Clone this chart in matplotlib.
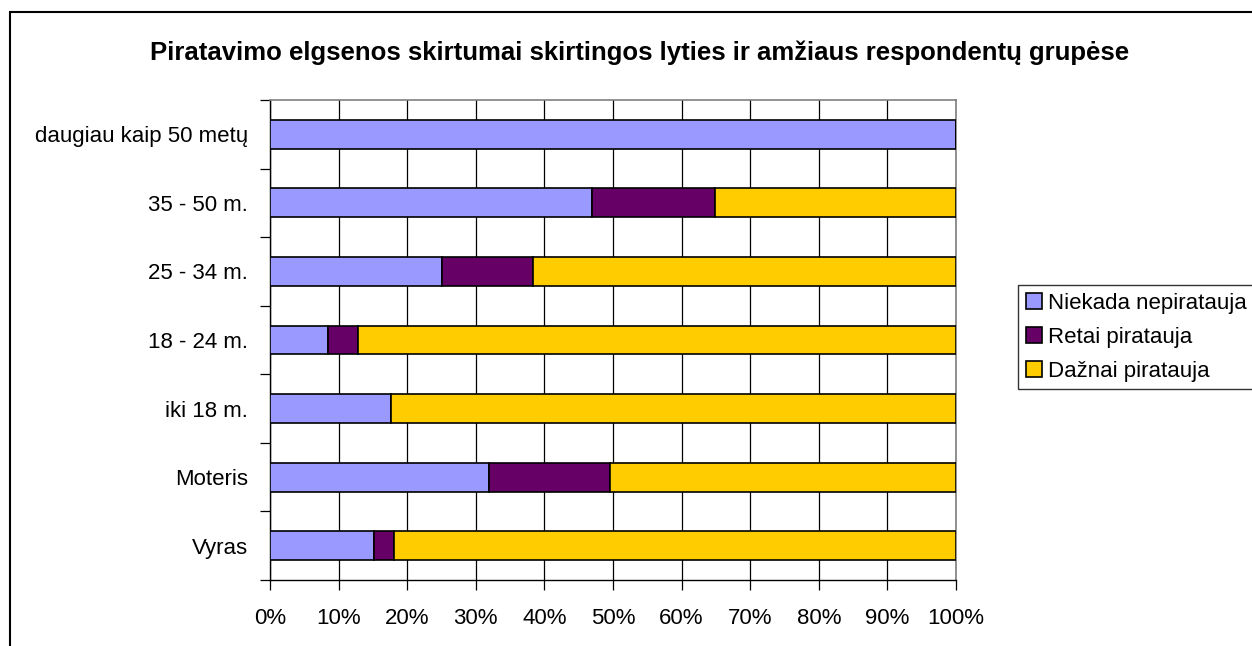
import numpy as np
import matplotlib
matplotlib.use("Agg")
import matplotlib.pyplot as plt
from matplotlib.patches import Rectangle
from matplotlib.ticker import FixedLocator, PercentFormatter

plt.rcParams['font.family'] = ['Liberation Sans', 'DejaVu Sans']

# groups listed from bottom to top
groups = ['Vyras', 'Moteris', 'iki 18 m.', '18 - 24 m.', '25 - 34 m.',
          '35 - 50 m.', 'daugiau kaip 50 metų']
never = [15.2, 31.9, 17.7, 8.4, 25.0, 46.9, 100.0]
rarely = [2.9, 17.6, 0.0, 4.5, 13.4, 17.9, 0.0]
often = [81.9, 50.5, 82.3, 87.1, 61.6, 35.2, 0.0]
series_names = ['Niekada nepiratauja', 'Retai piratauja', 'Dažnai piratauja']
colors = ['#9999FF', '#660066', '#FFCC00']

W, H = 1252, 646
fig = plt.figure(figsize=(W / 100, H / 100), dpi=100)
ax = fig.add_axes([270 / W, 1 - 580 / H, 686 / W, 480 / H])

y = np.arange(len(groups))
left = np.zeros(len(groups))
for vals, name, c in zip([never, rarely, often], series_names, colors):
    vals = np.array(vals)
    ax.barh(y, vals, left=left, height=0.42, color=c, edgecolor='black',
            linewidth=1.2, label=name, zorder=3)
    left += vals

ax.set_xlim(0, 100)
ax.set_ylim(-0.5, len(groups) - 0.5)
ax.set_xticks(np.arange(0, 101, 10))
ax.xaxis.set_major_formatter(PercentFormatter(decimals=0))
ax.grid(axis='x', color='black', linewidth=0.9, zorder=0)

ax.set_yticks(y)
ax.set_yticklabels(groups)
ax.yaxis.set_minor_locator(FixedLocator(np.arange(-0.5, len(groups), 1)))
ax.tick_params(axis='y', which='major', length=0, pad=16, labelsize=16)
ax.tick_params(axis='y', which='minor', length=7, width=0.9, color='black')
ax.tick_params(axis='x', length=7, width=0.9, pad=13, labelsize=16)

for s in ['top', 'right']:
    ax.spines[s].set_color('#808080')
    ax.spines[s].set_linewidth(1.2)
for s in ['left', 'bottom']:
    ax.spines[s].set_color('black')
    ax.spines[s].set_linewidth(1.0)

fig.text(640 / W, 1 - 53 / H,
         'Piratavimo elgsenos skirtumai skirtingos lyties ir amžiaus respondentų grupėse',
         ha='center', va='center', fontsize=18.5, fontweight='bold')

leg = fig.legend(loc='upper left', bbox_to_anchor=(1018 / W, 1 - 285 / H),
                 fontsize=16, frameon=True, fancybox=False, shadow=False,
                 handlelength=0.72, handleheight=0.72, handletextpad=0.3,
                 borderpad=0.35, labelspacing=0.58, borderaxespad=0)
leg.get_frame().set_edgecolor('black')
leg.get_frame().set_linewidth(1.0)

# outer chart frame
fig.add_artist(Rectangle((10 / W, -0.5), 1.5, 1.5 - 12 / H,
                         transform=fig.transFigure, fill=False,
                         edgecolor='black', linewidth=1.5))

fig.savefig('out.png', dpi=100)
